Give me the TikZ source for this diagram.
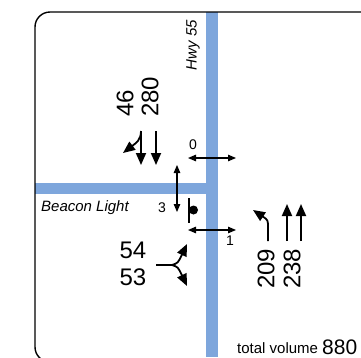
\documentclass[tikz,border=0pt]{standalone}
\usepackage{fontspec}
\setmainfont{Liberation Sans}
\usetikzlibrary{arrows.meta}
\definecolor{road}{RGB}{126,166,220}
\begin{document}
\begin{tikzpicture}[x=1pt,y=-1pt,
  mv/.style={line width=1.8pt,-{Triangle[length=12pt,width=10pt]}},
  ped/.style={line width=1.1pt,{Triangle[length=8pt,width=6.5pt]}-{Triangle[length=8pt,width=6.5pt]}},
  vol/.style={font=\fontsize{24}{24}\selectfont,inner sep=0pt,rotate=90,anchor=west},
  volh/.style={font=\fontsize{24}{24}\selectfont,inner sep=0pt},
  small/.style={font=\fontsize{14}{14}\selectfont,inner sep=0pt},
  street/.style={font=\fontsize{15}{15}\selectfont\itshape,inner sep=0pt}]
\useasboundingbox (0,0) rectangle (361,357);
\clip (0,0) rectangle (361,357);
\fill[white] (0,0) rectangle (361,357);
% roads
\fill[road] (206,12) rectangle (218,357);
\fill[road] (35,183) rectangle (218,194);
% frame
\draw[line width=1.4pt,rounded corners=15pt] (35,12) rectangle (400,362);
% street names
\node[street,rotate=90] (hwy) at (193,45) {Hwy 55};
\node[street,anchor=west] (beacon) at (41,208) {Beacon Light};
% southbound
\node[vol] (v46) at (125,117) {46};
\node[vol] (v280) at (150,117) {280};
\coordinate (s1a) at (141,131);
\coordinate (s1b) at (141,165);
\coordinate (s2a) at (156,131);
\coordinate (s2b) at (156,165);
\coordinate (sl) at (123,153);
\draw[mv] (s1a) -- (s1b);
\draw[mv] (s2a) -- (s2b);
\draw[mv] (s1a) .. controls (141,140) and (136,143) .. (sl);
% eastbound
\node[volh] (v54) at (133,250) {54};
\node[volh] (v53) at (133,277) {53};
\coordinate (e0) at (156,265);
\coordinate (e1) at (172,265);
\coordinate (eu) at (187,244);
\coordinate (ed) at (187,286);
\draw[line width=1.8pt] (e0) -- (e1);
\draw[mv] (e1) .. controls (178,263) .. (eu);
\draw[mv] (e1) .. controls (178,267) .. (ed);
% northbound
\node[vol] (v209) at (266,289) {209};
\node[vol] (v238) at (292,289) {238};
\coordinate (n1a) at (268,241);
\coordinate (n1b) at (253,210);
\coordinate (n2a) at (287,241);
\coordinate (n2b) at (287,204);
\coordinate (n3a) at (301,241);
\coordinate (n3b) at (301,204);
\draw[mv] (n1a) -- (268,228) .. controls (268,220) .. (n1b);
\draw[mv] (n2a) -- (n2b);
\draw[mv] (n3a) -- (n3b);
% pedestrian phases
\node[small] (p0) at (193,145) {0};
\coordinate (p0a) at (188,158);
\coordinate (p0b) at (236,158);
\draw[ped] (p0a) -- (p0b);
\node[small] (p3) at (162,208) {3};
\coordinate (p3a) at (177,165);
\coordinate (p3b) at (177,212);
\draw[ped] (p3a) -- (p3b);
\node[small] (p1) at (230,241) {1};
\coordinate (p1a) at (188,230);
\coordinate (p1b) at (236,230);
\draw[ped] (p1a) -- (p1b);
% signal
\coordinate (sig1) at (188.5,198);
\coordinate (sig2) at (188.5,223);
\draw[line width=2pt] (sig1) -- (sig2);
\fill (193.5,210) circle (4.5pt);
% total volume
\node[font=\fontsize{15}{15}\selectfont,inner sep=0pt,anchor=base west] (tv) at (237,353) {total volume};
\node[font=\fontsize{21}{21}\selectfont,inner sep=0pt,anchor=base west] (tvn) at (322,354) {880};
\end{tikzpicture}
\end{document}
